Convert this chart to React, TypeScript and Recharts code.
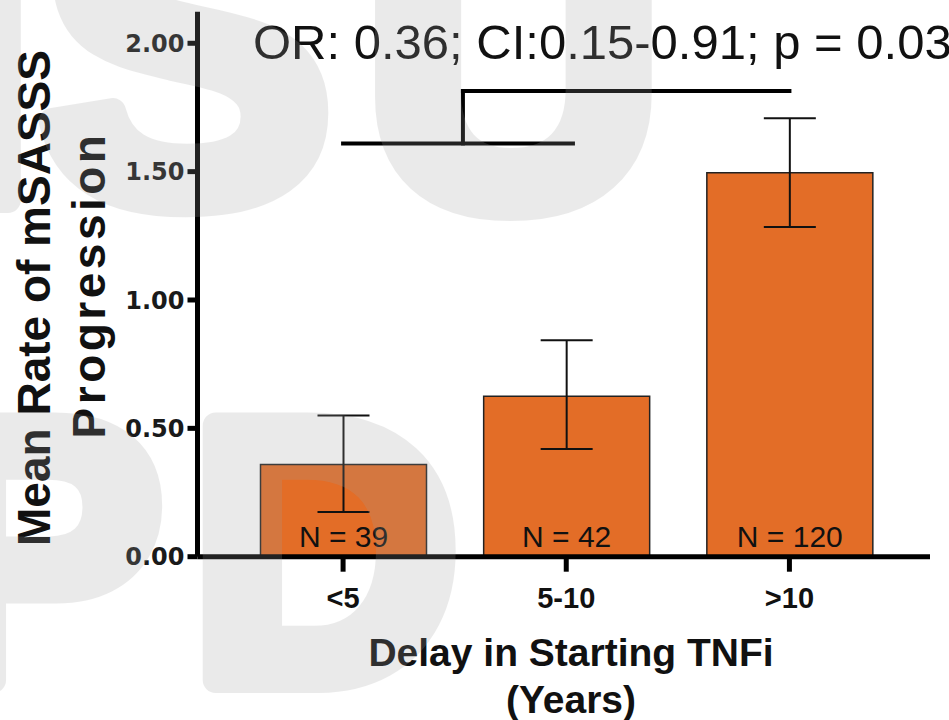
import {
  Bar,
  BarChart,
  ErrorBar,
  LabelList,
  ReferenceLine,
  XAxis,
  YAxis,
} from 'recharts'

const categories = ['<5', '5-10', '>10']
const means = [0.359, 0.625, 1.496]
const errLow = [0.185, 0.205, 0.212]
const errHigh = [0.191, 0.218, 0.212]
const counts = [39, 42, 120]
const yTicks = [0, 0.5, 1, 1.5, 2]

// bracket between groups: lower bar joins <5 and 5-10, upper one reaches >10
const bracketLow = 1.61
const bracketHigh = 1.814
const bracketJoin = 0.537
const bracketLowEnd = 1.03

const annotation = 'OR: 0.36; CI:0.15-0.91; p = 0.03'

const data = categories.map((cat, i) => ({
  cat,
  idx: i,
  mean: means[i],
  err: [errLow[i], errHigh[i]],
  n: counts[i],
}))

const SANS = '"Liberation Sans", Arial, sans-serif'
const xPadding = { left: 34, right: 29 }

// big faint letters laid over the whole figure
function Watermark() {
  return (
    <svg
      width={949}
      height={720}
      style={{ position: 'absolute', left: 0, top: 0, pointerEvents: 'none' }}
    >
      <g
        opacity={0.21}
        fill="#a0a0a0"
        stroke="#a0a0a0"
        strokeWidth={26}
        strokeLinejoin="round"
        fontFamily={SANS}
        fontWeight={700}
      >
        <text x={-85} y={200} fontSize={440}>I</text>
        <text x={39} y={200} fontSize={440}>S</text>
        <text x={363} y={204} fontSize={417}>U</text>
        <text x={-85} y={680} fontSize={370}>P</text>
        <text x={191} y={680} fontSize={370}>D</text>
      </g>
    </svg>
  )
}

function Titles() {
  return (
    <svg
      width={949}
      height={720}
      style={{ position: 'absolute', left: 0, top: 0, pointerEvents: 'none' }}
    >
      <text x={253} y={59} fontSize={49} fill="#111" fontFamily={SANS}>
        {annotation}
      </text>
      <g fontFamily={SANS} fontWeight={700} fill="#111" textAnchor="middle">
        <text x={571} y={666} fontSize={39}>Delay in Starting TNFi</text>
        <text x={571} y={713} fontSize={39}>(Years)</text>
        <text transform="translate(50,298) rotate(-90)" fontSize={46}>
          Mean Rate of mSASSS
        </text>
        <text transform="translate(105,285) rotate(-90)" fontSize={46} letterSpacing={3.5}>
          Progression
        </text>
      </g>
    </svg>
  )
}

export default function App() {
  return (
    <div
      style={{
        position: 'absolute',
        left: 0,
        top: 0,
        width: 949,
        height: 720,
        background: '#fff',
        overflow: 'hidden',
        fontFamily: SANS,
      }}
    >
      <BarChart
        width={949}
        height={720}
        data={data}
        margin={{ top: 11.7, right: 19, bottom: 63.3, left: 0 }}
      >
        <XAxis
          dataKey="cat"
          height={100}
          padding={xPadding}
          axisLine={{ stroke: '#000', strokeWidth: 5 }}
          tickLine={{ stroke: '#000', strokeWidth: 5 }}
          tickSize={15}
          tickMargin={16}
          tick={{ fill: '#111', fontSize: 29, fontWeight: 700, fontFamily: SANS }}
        />
        <XAxis
          xAxisId="num"
          dataKey="idx"
          type="number"
          domain={[-0.5, 2.5]}
          padding={xPadding}
          hide
        />
        <YAxis
          width={197.5}
          domain={[0, 2.123]}
          ticks={yTicks}
          interval={0}
          allowDataOverflow
          tickFormatter={(v: number) => v.toFixed(2)}
          axisLine={{ stroke: '#000', strokeWidth: 5 }}
          tickLine={{ stroke: '#000', strokeWidth: 5 }}
          tickSize={10}
          tickMargin={3}
          tick={{ fill: '#1a1a1a', fontSize: 24, fontWeight: 700, fontFamily: '"DejaVu Sans", sans-serif' }}
        />
        <Bar
          dataKey="mean"
          barSize={166}
          fill="#e36d27"
          stroke="#222"
          strokeWidth={1.5}
          isAnimationActive={false}
        >
          <ErrorBar
            dataKey="err"
            width={26}
            stroke="#111"
            strokeWidth={2}
            isAnimationActive={false}
          />
          <LabelList
            dataKey="n"
            position="insideBottom"
            offset={10}
            formatter={(v: number) => `N = ${v}`}
            fill="#111"
            fontSize={30}
            fontFamily={SANS}
          />
        </Bar>
        <ReferenceLine
          xAxisId="num"
          segment={[{ x: 0, y: bracketLow }, { x: bracketLowEnd, y: bracketLow }]}
          stroke="#000"
          strokeWidth={4}
          strokeLinecap="square"
        />
        <ReferenceLine
          xAxisId="num"
          segment={[{ x: bracketJoin, y: bracketLow }, { x: bracketJoin, y: bracketHigh }]}
          stroke="#000"
          strokeWidth={4}
          strokeLinecap="square"
        />
        <ReferenceLine
          xAxisId="num"
          segment={[{ x: bracketJoin, y: bracketHigh }, { x: 2, y: bracketHigh }]}
          stroke="#000"
          strokeWidth={4}
          strokeLinecap="square"
        />
      </BarChart>
      <Titles />
      <Watermark />
    </div>
  )
}
